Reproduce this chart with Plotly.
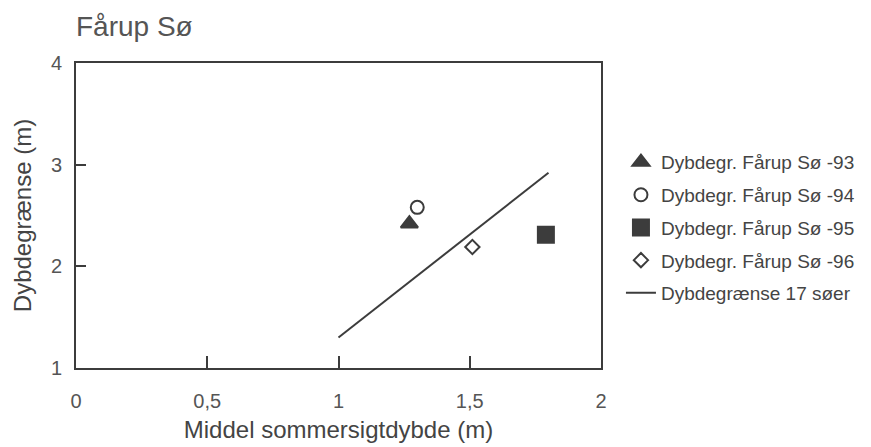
import plotly.graph_objects as go

# Data
names = ["Dybdegr. Fårup Sø -93", "Dybdegr. Fårup Sø -94",
         "Dybdegr. Fårup Sø -95", "Dybdegr. Fårup Sø -96"]
x_pts = [1.27, 1.30, 1.79, 1.51]
y_pts = [2.42, 2.58, 2.31, 2.19]
line_name = "Dybdegrænse 17 søer"
line_x = [1.0, 1.8]
line_y = [1.30, 2.92]
x_ticks = [0, 0.5, 1, 1.5, 2]
x_tick_labels = ["0", "0,5", "1", "1,5", "2"]
y_ticks = [1, 2, 3, 4]

dark = "#3c3c3c"
text_col = "#555555"
symbols = ["triangle-up", "circle-open", "square", "diamond-open"]
sizes = [15, 13, 16, 11]

fig = go.Figure()
for i, (n, xv, yv, s, sz) in enumerate(zip(names, x_pts, y_pts, symbols, sizes)):
    fig.add_trace(go.Scatter(
        x=[xv], y=[yv], mode="markers", name=n, legendgroup=f"g{i}",
        marker=dict(symbol=s, size=sz, color=dark, line=dict(color=dark, width=2))))
fig.add_trace(go.Scatter(x=line_x, y=line_y, mode="lines", name=line_name,
                         legendgroup="g4", line=dict(color=dark, width=2)))

font = "Liberation Sans, Arial, sans-serif"
W, H = 863, 439
L, T = 68, 55
PW, PH = 525, 305
fig.update_layout(
    width=W, height=H,
    margin=dict(l=L, r=W - L - PW, t=T, b=H - T - PH, autoexpand=False),
    paper_bgcolor="white", plot_bgcolor="white",
    font=dict(family=font, color=text_col),
    title=dict(text="Fårup Sø", x=L / W, xanchor="left", y=1 - 18 / H, yanchor="middle",
               font=dict(size=28, color=text_col, family=font)),
    showlegend=True,
    legend=dict(x=1.038, y=0.46, xanchor="left", yanchor="middle",
                font=dict(size=19, color="#444444", family=font),
                tracegroupgap=5, itemwidth=30, bgcolor="rgba(0,0,0,0)"),
    xaxis=dict(range=[0, 2], tickvals=x_ticks, ticktext=x_tick_labels,
               ticks="inside", ticklen=12, tickwidth=2, tickcolor=dark,
               showgrid=False, zeroline=False, automargin=False,
               showline=True, linecolor=dark, linewidth=2, mirror=True,
               ticklabelstandoff=14,
               tickfont=dict(size=20, color=text_col),
               title=dict(text="Middel sommersigtdybde (m)", font=dict(size=24, color="#444444"),
                          standoff=10)),
    yaxis=dict(range=[1, 4], tickvals=y_ticks,
               ticks="inside", ticklen=10, tickwidth=2, tickcolor=dark,
               showgrid=False, zeroline=False, automargin=False,
               showline=True, linecolor=dark, linewidth=2, mirror=True,
               ticklabelstandoff=8,
               tickfont=dict(size=20, color=text_col),
               title=dict(text="Dybdegrænse (m)", font=dict(size=24, color="#444444"),
                          standoff=12)),
)
fig.write_html("out.html")
